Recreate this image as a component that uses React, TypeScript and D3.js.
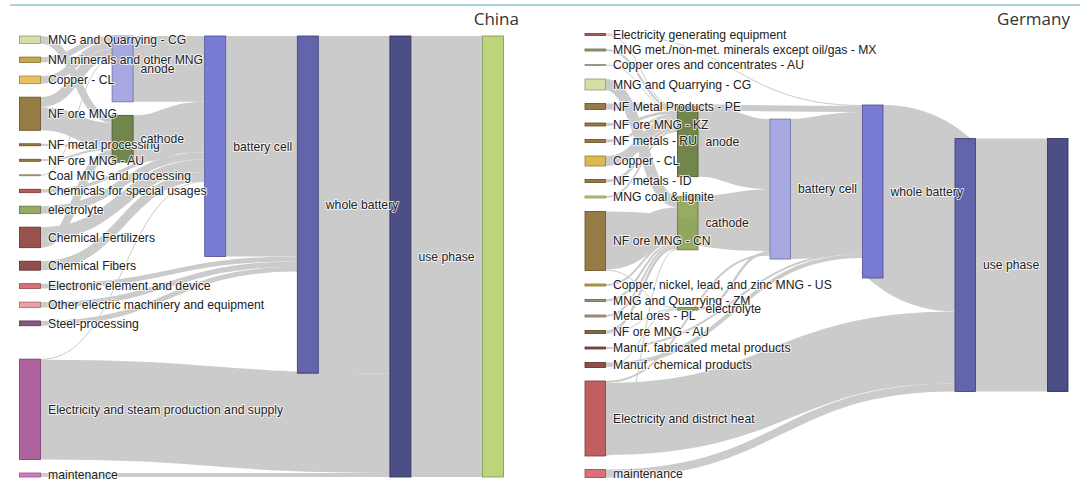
import React, { useMemo } from "react";
import * as d3 from "d3";

type Flow = [string, string, number];

// ---------------- China ----------------
const CHINA_NODES = [
  "MNG and Quarrying - CG",
  "NM minerals and other MNG",
  "Copper - CL",
  "NF ore MNG",
  "NF metal processing",
  "NF ore MNG - AU",
  "Coal MNG and processing",
  "Chemicals for special usages",
  "electrolyte",
  "Chemical Fertilizers",
  "Chemical Fibers",
  "Electronic element and device",
  "Other electric machinery and equipment",
  "Steel-processing",
  "Electricity and steam production and supply",
  "maintenance",
  "anode",
  "cathode",
  "battery cell",
  "whole battery",
  "use phase",
  "",
];

const CHINA_FLOWS: Flow[] = [
  ["MNG and Quarrying - CG", "cathode", 7.6],
  ["NM minerals and other MNG", "anode", 5.5],
  ["Copper - CL", "anode", 7.6],
  ["NF ore MNG", "anode", 10],
  ["NF ore MNG", "cathode", 23.2],
  ["NF metal processing", "cathode", 2],
  ["NF ore MNG - AU", "cathode", 2],
  ["Coal MNG and processing", "anode", 1],
  ["Chemicals for special usages", "battery cell", 3.4],
  ["electrolyte", "battery cell", 7.5],
  ["Chemical Fertilizers", "cathode", 8],
  ["Chemical Fertilizers", "battery cell", 12.6],
  ["Chemical Fibers", "battery cell", 9],
  ["Electronic element and device", "whole battery", 4.9],
  ["Other electric machinery and equipment", "whole battery", 5.4],
  ["Steel-processing", "whole battery", 4.8],
  ["Electricity and steam production and supply", "battery cell", 0.6],
  ["Electricity and steam production and supply", "use phase", 100],
  ["maintenance", "use phase", 4],
  ["anode", "battery cell", 66],
  ["cathode", "battery cell", 47],
  ["battery cell", "whole battery", 221],
  ["whole battery", "use phase", 338],
  ["use phase", "", 442],
];

const CHINA_COLORS = [
  "#cedb9c", "#bd9e39", "#e7ba52", "#8c6d31", "#8c6d31", "#8c6d31", "#c2b99c",
  "#ad494a", "#8ca252", "#8f3f3c", "#843c39", "#d6616b", "#e7969c", "#7b4173",
  "#a55194", "#ce6dbd", "#9c9ede", "#637939", "#6b6ecf", "#5254a3", "#393b79",
  "#b5cf6b",
];

// ---------------- Germany ----------------
const GERMANY_NODES = [
  "Electricity generating equipment",
  "MNG met./non-met. minerals except oil/gas - MX",
  "Copper ores and concentrates - AU",
  "MNG and Quarrying - CG",
  "NF Metal Products - PE",
  "NF ore MNG - KZ",
  "NF metals - RU",
  "Copper - CL",
  "NF metals - ID",
  "MNG coal & lignite",
  "NF ore MNG - CN",
  "Copper, nickel, lead, and zinc MNG - US",
  "MNG and Quarrying - ZM",
  "Metal ores - PL",
  "NF ore MNG - AU",
  "Manuf. fabricated metal products",
  "Manuf. chemical products",
  "Electricity and district heat",
  "maintenance",
  "anode",
  "cathode",
  "electrolyte",
  "battery cell",
  "whole battery",
  "use phase",
  "",
];

const GERMANY_FLOWS: Flow[] = [
  ["Electricity generating equipment", "anode", 1],
  ["Electricity generating equipment", "whole battery", 1],
  ["MNG met./non-met. minerals except oil/gas - MX", "anode", 2],
  ["Copper ores and concentrates - AU", "anode", 1],
  ["MNG and Quarrying - CG", "cathode", 11],
  ["NF Metal Products - PE", "whole battery", 6],
  ["NF ore MNG - KZ", "anode", 3],
  ["NF metals - RU", "anode", 3],
  ["Copper - CL", "anode", 10],
  ["NF metals - ID", "anode", 3],
  ["MNG coal & lignite", "anode", 2],
  ["NF ore MNG - CN", "cathode", 33],
  ["NF ore MNG - CN", "battery cell", 25],
  ["NF ore MNG - CN", "electrolyte", 1],
  ["Copper, nickel, lead, and zinc MNG - US", "cathode", 2],
  ["MNG and Quarrying - ZM", "cathode", 2],
  ["Metal ores - PL", "cathode", 2],
  ["NF ore MNG - AU", "cathode", 2.5],
  ["NF ore MNG - AU", "electrolyte", 0.5],
  ["Manuf. fabricated metal products", "whole battery", 2],
  ["Manuf. chemical products", "electrolyte", 1],
  ["Manuf. chemical products", "whole battery", 4],
  ["Electricity and district heat", "cathode", 1],
  ["Electricity and district heat", "battery cell", 2],
  ["Electricity and district heat", "use phase", 72],
  ["maintenance", "use phase", 8],
  ["anode", "battery cell", 70],
  ["cathode", "battery cell", 37],
  ["electrolyte", "battery cell", 2.5],
  ["battery cell", "whole battery", 140],
  ["whole battery", "use phase", 173],
  ["use phase", "", 253],
];

const GERMANY_COLORS = [
  "#ad494a", "#8c9c6c", "#c8bca0", "#cedb9c", "#8c6d31", "#8c6d31", "#8c6d31",
  "#d8b23e", "#8c6d31", "#b5cf6b", "#8c6d31", "#bd9e39", "#8c8c70", "#a89a78",
  "#765a2a", "#843c39", "#843c39", "#b84e4e", "#d6616b", "#637939", "#8ca252",
  "#8ca252", "#9c9ede", "#6b6ecf", "#5254a3", "#393b79",
];

// Both panels share one value-to-pixel scale so that their flows compare.
const MAX_PX_PER_UNIT = 1;

// ---------------- sankey layout ----------------
interface SNode {
  name: string;
  index: number;
  sourceLinks: SLink[];
  targetLinks: SLink[];
  value: number;
  depth: number;
  layer: number;
  x0: number;
  x1: number;
  y0: number;
  y1: number;
}
interface SLink {
  source: SNode;
  target: SNode;
  value: number;
  index: number;
  width: number;
  y0: number;
  y1: number;
}
interface SankeyOptions {
  x0: number;
  x1: number;
  y0: number;
  y1: number;
  nodeWidth: number;
  nodePadding: number;
  iterations: number;
}

function computeSankey(names: string[], flows: Flow[], o: SankeyOptions) {
  const nodes: SNode[] = names.map((name, index) => ({
    name, index, sourceLinks: [], targetLinks: [], value: 0, depth: 0, layer: 0, x0: 0, x1: 0, y0: 0, y1: 0,
  }));
  const byName = new Map(nodes.map((n) => [n.name, n] as [string, SNode]));
  const links: SLink[] = flows.map(([s, t, value], index) => {
    const source = byName.get(s)!;
    const target = byName.get(t)!;
    const link: SLink = { source, target, value, index, width: 0, y0: 0, y1: 0 };
    source.sourceLinks.push(link);
    target.targetLinks.push(link);
    return link;
  });
  for (const n of nodes) {
    n.value = Math.max(d3.sum(n.sourceLinks, (l) => l.value), d3.sum(n.targetLinks, (l) => l.value));
  }

  // depth = longest path from a source node
  let current = new Set(nodes);
  let depth = 0;
  while (current.size) {
    const next = new Set<SNode>();
    for (const n of current) {
      n.depth = depth;
      for (const l of n.sourceLinks) next.add(l.target);
    }
    current = next;
    depth++;
  }
  const nCols = depth;
  const xCol = d3.scaleLinear().domain([0, nCols - 1]).range([o.x0, o.x1 - o.nodeWidth]);
  const columns: SNode[][] = Array.from({ length: nCols }, () => []);
  for (const n of nodes) {
    n.layer = n.sourceLinks.length ? n.depth : nCols - 1; // sinks on the right
    n.x0 = xCol(n.layer);
    n.x1 = n.x0 + o.nodeWidth;
    columns[n.layer].push(n);
  }

  const py = Math.min(o.nodePadding, (o.y1 - o.y0) / (d3.max(columns, (c) => c.length)! - 1));
  const fitKy = d3.min(columns, (c) => (o.y1 - o.y0 - (c.length - 1) * py) / d3.sum(c, (n) => n.value))!;
  const size = d3.scaleLinear().domain([0, 1]).range([0, Math.min(fitKy, MAX_PX_PER_UNIT)]);

  const byBreadth = (a: SNode, b: SNode) => a.y0 - b.y0;
  const byTarget = (a: SLink, b: SLink) => byBreadth(a.target, b.target) || a.index - b.index;
  const bySource = (a: SLink, b: SLink) => byBreadth(a.source, b.source) || a.index - b.index;
  const reorderNodeLinks = (n: SNode) => {
    for (const l of n.targetLinks) l.source.sourceLinks.sort(byTarget);
    for (const l of n.sourceLinks) l.target.targetLinks.sort(bySource);
  };
  const center = (n: SNode) => (n.y0 + n.y1) / 2;

  for (const col of columns) {
    let y = o.y0;
    for (const n of col) {
      n.y0 = y;
      n.y1 = y + size(n.value);
      y = n.y1 + py;
      for (const l of n.sourceLinks) l.width = size(l.value);
    }
    const spread = (o.y1 - y + py) / (col.length + 1);
    col.forEach((n, i) => {
      n.y0 += spread * (i + 1);
      n.y1 += spread * (i + 1);
    });
    for (const n of col) {
      n.sourceLinks.sort(byTarget);
      n.targetLinks.sort(bySource);
    }
  }

  // y0 of a source that would make its link to target horizontal
  const sourceTop = (source: SNode, target: SNode) => {
    let y = target.y0;
    for (const l of target.targetLinks) {
      if (l.source === source) break;
      y += l.width;
    }
    for (const l of source.sourceLinks) {
      if (l.target === target) break;
      y -= l.width;
    }
    return y;
  };

  const pushDown = (col: SNode[], y: number, i: number, alpha: number) => {
    for (; i < col.length; ++i) {
      const n = col[i];
      const dy = (y - n.y0) * alpha;
      if (dy > 1e-6) { n.y0 += dy; n.y1 += dy; }
      y = n.y1 + py;
    }
  };
  const pushUp = (col: SNode[], y: number, i: number, alpha: number) => {
    for (; i >= 0; --i) {
      const n = col[i];
      const dy = (n.y1 - y) * alpha;
      if (dy > 1e-6) { n.y0 -= dy; n.y1 -= dy; }
      y = n.y0 - py;
    }
  };
  const resolveCollisions = (col: SNode[], alpha: number) => {
    const i = col.length >> 1;
    const subject = col[i];
    pushUp(col, subject.y0 - py, i - 1, alpha);
    pushDown(col, subject.y1 + py, i + 1, alpha);
    pushUp(col, o.y1, col.length - 1, alpha);
    pushDown(col, o.y0, 0, alpha);
  };

  // every non-source node moves towards the weighted centre of its sources
  const relaxTowardsSources = (alpha: number, beta: number) => {
    for (let c = 1; c < columns.length; ++c) {
      for (const target of columns[c]) {
        const w = d3.sum(target.targetLinks, (l) => l.value);
        if (!(w > 0)) continue;
        const y = d3.sum(target.targetLinks, (l) => center(l.source) * l.value) / w;
        const dy = (y - center(target)) * alpha;
        target.y0 += dy;
        target.y1 += dy;
        reorderNodeLinks(target);
      }
      resolveCollisions(columns[c], beta);
    }
  };

  for (let k = 0; k < o.iterations; ++k) {
    const alpha = Math.pow(0.99, k);
    const beta = Math.max(1 - alpha, (k + 1) / o.iterations);
    // source nodes move towards the slots their links take in their targets
    for (const source of columns[0]) {
      let y = 0;
      let w = 0;
      for (const l of source.sourceLinks) {
        y += sourceTop(source, l.target) * l.value;
        w += l.value;
      }
      if (!(w > 0)) continue;
      const dy = (y / w - source.y0) * alpha;
      source.y0 += dy;
      source.y1 += dy;
      reorderNodeLinks(source);
    }
    resolveCollisions(columns[0], beta);
    relaxTowardsSources(alpha, beta);
  }
  // final settle once the source column is fixed
  relaxTowardsSources(1, 1);

  for (const n of nodes) {
    n.sourceLinks.sort(byTarget);
    n.targetLinks.sort(bySource);
  }
  for (const n of nodes) {
    let a = n.y0;
    let b = n.y0;
    for (const l of n.sourceLinks) { l.y0 = a + l.width / 2; a += l.width; }
    for (const l of n.targetLinks) { l.y1 = b + l.width / 2; b += l.width; }
  }
  return { nodes, links };
}

const linkPath = d3
  .linkHorizontal<SLink, [number, number]>()
  .source((l) => [l.source.x1, l.y0])
  .target((l) => [l.target.x0, l.y1]);

interface PanelProps {
  names: string[];
  flows: Flow[];
  colors: string[];
  options: SankeyOptions;
  title: string;
  titleRight: number;
}

function SankeyPanel({ names, flows, colors, options, title, titleRight }: PanelProps) {
  const { nodes, links } = useMemo(() => computeSankey(names, flows, options), [names, flows, options]);
  const color = d3.scaleOrdinal<string, string>().domain(names).range(colors);
  return (
    <g>
      <text
        x={titleRight}
        y={25}
        textAnchor="end"
        fontFamily="'Open Sans', sans-serif"
        fontSize={17}
        fill="#333"
      >
        {title}
      </text>
      <g fill="none">
        {links.map((l) => (
          <path
            key={l.index}
            d={linkPath(l) ?? undefined}
            stroke="#cbcbcb"
            strokeWidth={Math.max(1, l.width)}
          />
        ))}
      </g>
      <g>
        {nodes.map((n) => {
          const c = color(n.name);
          return (
            <rect
              key={n.index}
              x={n.x0}
              y={n.y0}
              width={n.x1 - n.x0}
              height={Math.max(1, n.y1 - n.y0)}
              fill={c}
              fillOpacity={0.9}
              stroke={d3.rgb(c).darker(1).formatHex()}
              strokeWidth={0.8}
            />
          );
        })}
      </g>
      <g fontFamily="'Liberation Sans', Arial, sans-serif" fontSize={12.2} fill="#222">
        {nodes
          .filter((n) => n.name)
          .map((n) => (
            <text
              key={n.index}
              x={n.x1 + 7.5}
              y={(n.y0 + n.y1) / 2}
              dy="0.35em"
              stroke="#fff"
              strokeOpacity={0.75}
              strokeWidth={2}
              strokeLinejoin="round"
              paintOrder="stroke"
            >
              {n.name}
            </text>
          ))}
      </g>
    </g>
  );
}

const CHINA_OPTIONS: SankeyOptions = { x0: 19.5, x1: 503.5, y0: 36, y1: 477, nodeWidth: 21, nodePadding: 13.5, iterations: 32 };
const GERMANY_OPTIONS: SankeyOptions = { x0: 585, x1: 1068, y0: 33.5, y1: 478.5, nodeWidth: 20.5, nodePadding: 13.5, iterations: 32 };

export default function App() {
  return (
    <svg
      width={1080}
      height={481}
      style={{ position: "absolute", left: 0, top: 0, background: "#fff" }}
    >
      <line x1={10} x2={1080} y1={5} y2={5} stroke="#8fc2d2" strokeWidth={1.5} />
      <SankeyPanel
        names={CHINA_NODES}
        flows={CHINA_FLOWS}
        colors={CHINA_COLORS}
        options={CHINA_OPTIONS}
        title="China"
        titleRight={519}
      />
      <SankeyPanel
        names={GERMANY_NODES}
        flows={GERMANY_FLOWS}
        colors={GERMANY_COLORS}
        options={GERMANY_OPTIONS}
        title="Germany"
        titleRight={1070}
      />
    </svg>
  );
}
